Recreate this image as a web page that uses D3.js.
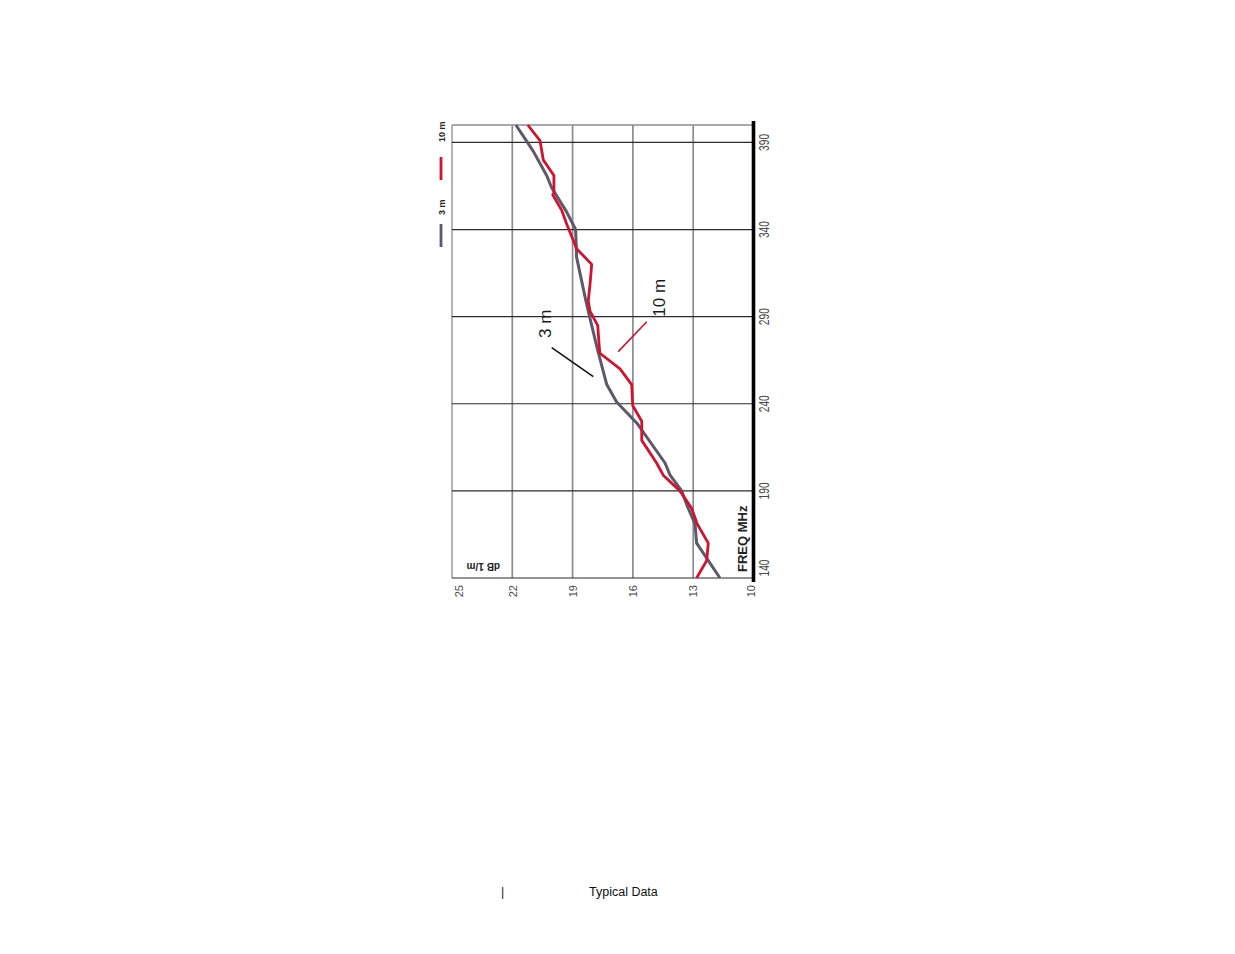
<!DOCTYPE html>
<html>
<head>
<meta charset="utf-8">
<script src="https://cdn.jsdelivr.net/npm/d3@7"></script>
<style>
  html, body { margin: 0; padding: 0; background: #ffffff; }
  svg { display: block; }
</style>
</head>
<body>
<svg id="chart" width="1235" height="954"></svg>
<script>
// ---------- DATA ----------
const freqTicks = [140, 190, 240, 290, 340, 390];
const dbTicks = [25, 22, 19, 16, 13, 10];
const seriesNames = ["3 m", "10 m"];

const freq3m = [140, 160, 171, 182, 190, 199, 206, 229, 241, 251, 272, 285, 297, 324, 340, 350, 364, 371, 385, 400];
const db3m   = [11.67, 12.83, 12.91, 13.32, 13.57, 14.15, 14.40, 15.81, 16.81, 17.30, 17.78, 18.05, 18.30, 18.80, 18.85, 19.29, 20.04, 20.29, 20.96, 21.82];

const freq10m = [140, 150, 160, 171, 180, 190, 199, 206, 219, 230, 239, 251, 260, 269, 272, 285, 293, 299, 309, 320, 329, 343, 351, 360, 361, 371, 380, 391, 400];
const db10m   = [12.83, 12.33, 12.25, 12.80, 13.08, 13.66, 14.49, 14.82, 15.56, 15.56, 16.01, 16.06, 16.64, 17.64, 17.67, 17.75, 18.13, 18.22, 18.13, 18.05, 18.80, 19.29, 19.54, 19.99, 19.93, 19.93, 20.46, 20.62, 21.23];

// annotation call-outs (in data units: MHz, dB)
const annotLabels = ["3 m", "10 m"];
const annotTextFreq = [277.8, 290.0];
const annotTextDb = [20.07, 14.40];
const annotLineFreq = [[272.2, 255.6], [287.1, 269.9]];
const annotLineDb = [[20.04, 17.97], [15.31, 16.73]];

const footerText = "Typical Data";

// ---------- STYLE ----------
const RED = "#d2122e";
const GRAY = "#5e5868";

// ---------- LAYOUT ----------
const svg = d3.select("#chart");
const originX = 452, originY = 578;   // screen point of (140 MHz, 25 dB)
const lenF = 453;                    // length of frequency axis (pointing up on screen)
const lenD = 301.5;                  // length of dB axis (pointing right on screen)

const x = d3.scaleLinear().domain([140, 400]).range([0, lenF]);
const y = d3.scaleLinear().domain([25, 10]).range([0, lenD]);

// chart is drawn in its own orientation and turned a quarter turn
const g = svg.append("g").attr("transform", `translate(${originX},${originY}) rotate(-90)`);

// dB grid lines (gray)
g.append("g").selectAll("line").data(dbTicks.filter(v => v !== 10)).join("line")
  .attr("x1", 0).attr("x2", lenF)
  .attr("y1", d => y(d)).attr("y2", d => y(d))
  .attr("stroke", "#8d8a96")
  .attr("stroke-width", d => d === 25 ? 1.3 : 1.7);

// top border (400 MHz)
g.append("line")
  .attr("x1", x(400)).attr("x2", x(400)).attr("y1", 0).attr("y2", lenD)
  .attr("stroke", "#8d8a96").attr("stroke-width", 1.6);

// frequency grid lines (dark)
g.append("g").selectAll("line").data(freqTicks).join("line")
  .attr("x1", d => x(d)).attr("x2", d => x(d))
  .attr("y1", 0).attr("y2", lenD)
  .attr("stroke", "#2b2b2b").attr("stroke-width", 1.2);

// thick frequency axis line
g.append("line")
  .attr("x1", -4).attr("x2", lenF + 4)
  .attr("y1", lenD).attr("y2", lenD)
  .attr("stroke", "#000").attr("stroke-width", 3.6);

// frequency tick labels
g.append("g").selectAll("text").data(freqTicks).join("text")
  .attr("x", d => d === 140 ? x(d) + 1.5 : x(d))
  .attr("y", lenD + 15.5)
  .attr("text-anchor", d => d === 140 ? "start" : "middle")
  .attr("font-family", "'Liberation Sans Narrow', 'Arial Narrow', sans-serif")
  .attr("font-size", 14.5)
  .attr("textLength", 17)
  .attr("lengthAdjust", "spacingAndGlyphs")
  .attr("fill", "#4a4a4a")
  .text(d => d);

// dB tick labels
g.append("g").selectAll("text").data(dbTicks).join("text")
  .attr("x", -7)
  .attr("y", d => Math.min(Math.max(y(d) + 4.2, 10.5), lenD + 1))
  .attr("text-anchor", "end")
  .attr("font-family", "'Liberation Sans', Arial, sans-serif")
  .attr("font-size", 11)
  .attr("fill", "#4a4a4a")
  .text(d => d);

// axis titles
g.append("text")
  .attr("x", 6).attr("y", lenD - 6.5)
  .attr("font-family", "'Liberation Sans Narrow', 'Arial Narrow', sans-serif")
  .attr("font-weight", "bold")
  .attr("font-size", 13)
  .attr("fill", "#222")
  .text("FREQ  MHz");

g.append("text")
  .attr("transform", `translate(15.5,48) rotate(-90)`)
  .attr("font-family", "'Liberation Sans', Arial, sans-serif")
  .attr("font-weight", "bold")
  .attr("font-size", 10)
  .attr("fill", "#222")
  .text("dB 1/m");

// series lines
const seriesData = [
  freq3m.map((f, i) => ({ f, v: db3m[i] })),
  freq10m.map((f, i) => ({ f, v: db10m[i] }))
];
const colors = [GRAY, RED];
const line = d3.line().x(d => x(d.f)).y(d => y(d.v));

g.append("g").selectAll("path").data(seriesData).join("path")
  .attr("d", line)
  .attr("fill", "none")
  .attr("stroke", (d, i) => colors[i])
  .attr("stroke-width", (d, i) => i === 0 ? 3 : 2.8)
  .attr("stroke-linejoin", "round");

// legend (above the plot in chart orientation)
const legendStart = [331, 398];
const legend = g.append("g");
seriesNames.forEach((name, i) => {
  legend.append("line")
    .attr("x1", legendStart[i]).attr("x2", legendStart[i] + 23)
    .attr("y1", -11).attr("y2", -11)
    .attr("stroke", colors[i]).attr("stroke-width", 2.8);
  legend.append("text")
    .attr("x", legendStart[i] + (i === 0 ? 32 : 38)).attr("y", -7.5)
    .attr("font-family", "'Liberation Sans Narrow', 'Arial Narrow', sans-serif")
    .attr("font-weight", "bold")
    .attr("font-size", 9)
    .attr("fill", "#222")
    .text(name);
});

// call-outs
annotLabels.forEach((lab, i) => {
  g.append("line")
    .attr("x1", x(annotLineFreq[i][0])).attr("x2", x(annotLineFreq[i][1]))
    .attr("y1", y(annotLineDb[i][0])).attr("y2", y(annotLineDb[i][1]))
    .attr("stroke", i === 0 ? "#111" : RED)
    .attr("stroke-width", 1.6);
  g.append("text")
    .attr("x", x(annotTextFreq[i])).attr("y", y(annotTextDb[i]))
    .attr("font-family", "'Liberation Sans', Arial, sans-serif")
    .attr("font-size", 17)
    .attr("fill", "#1a1a1a")
    .text(lab);
});

// footer
svg.append("text")
  .attr("x", 501).attr("y", 896)
  .attr("font-family", "'Liberation Sans', Arial, sans-serif")
  .attr("font-size", 12.5)
  .attr("fill", "#222")
  .text("|");
svg.append("text")
  .attr("x", 589).attr("y", 895.5)
  .attr("font-family", "'Liberation Sans', Arial, sans-serif")
  .attr("font-size", 12.5)
  .attr("fill", "#111")
  .text(footerText);
</script>
</body>
</html>
